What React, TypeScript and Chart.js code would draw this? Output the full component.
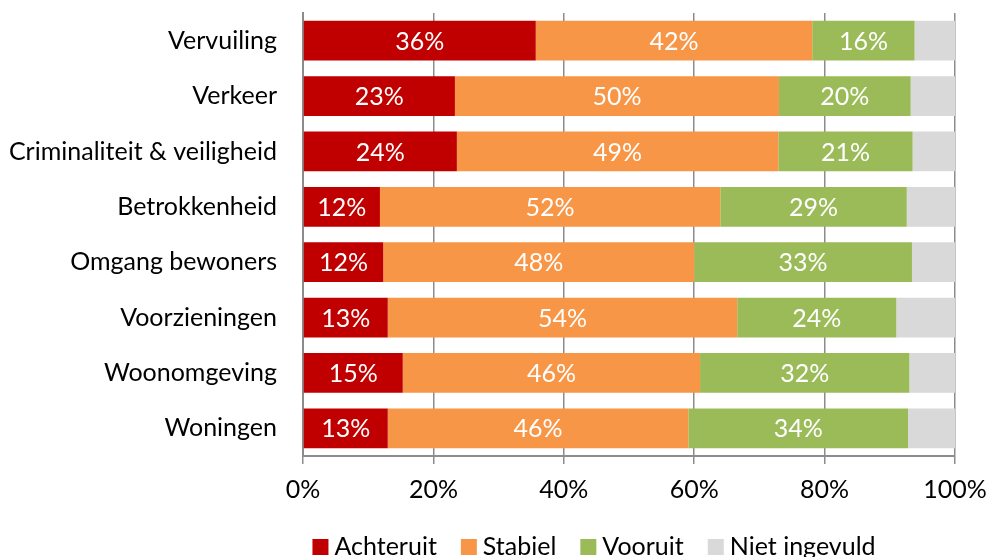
import { useEffect, useRef } from "react";
import { Chart, registerables } from "chart.js";

Chart.register(...registerables);

const categories = [
  "Vervuiling",
  "Verkeer",
  "Criminaliteit & veiligheid",
  "Betrokkenheid",
  "Omgang bewoners",
  "Voorzieningen",
  "Woonomgeving",
  "Woningen",
];
const achteruit = [35.7, 23.3, 23.6, 11.8, 12.3, 13.0, 15.3, 13.0];
const stabiel = [42.4, 49.7, 49.3, 52.2, 47.7, 53.6, 45.6, 46.1];
const vooruit = [15.7, 20.2, 20.6, 28.6, 33.4, 24.4, 32.1, 33.7];
const nietIngevuld = [6.2, 6.8, 6.5, 7.4, 6.6, 9.0, 7.0, 7.2];
const seriesNames = ["Achteruit", "Stabiel", "Vooruit", "Niet ingevuld"];
const seriesColors = ["#C00000", "#F79646", "#9BBB59", "#D9D9D9"];
const labelledSeries = [true, true, true, false];
const xTickValues = [0, 20, 40, 60, 80, 100];

const FONT = "Lato";
const FS = 25;
const GRID = "#8c8c8c";

const dataLabelPlugin = {
  id: "segmentLabels",
  afterDatasetsDraw(chart: any) {
    const ctx = chart.ctx;
    ctx.save();
    ctx.font = `${FS}px ${FONT}`;
    ctx.fillStyle = "#ffffff";
    ctx.textAlign = "center";
    ctx.textBaseline = "middle";
    chart.data.datasets.forEach((ds: any, di: number) => {
      if (!labelledSeries[di]) return;
      const meta = chart.getDatasetMeta(di);
      meta.data.forEach((el: any, i: number) => {
        const { x, base, y } = el.getProps(["x", "base", "y"], true);
        const v = ds.data[i];
        ctx.fillText(`${Math.round(v)}%`, (x + base) / 2, y + 1);
      });
    });
    ctx.restore();
  },
};

const legendPlugin = {
  id: "bottomLegend",
  afterDraw(chart: any) {
    const ctx = chart.ctx;
    ctx.save();
    ctx.font = `${FS}px ${FONT}`;
    ctx.textBaseline = "middle";
    ctx.textAlign = "left";
    const box = 16;
    const gap = 6;
    const spacing = 24;
    const items = chart.data.datasets.map((d: any) => ({
      text: d.label,
      color: d.backgroundColor,
      w: ctx.measureText(d.label).width,
    }));
    const total =
      items.reduce((s: number, it: any) => s + box + gap + it.w, 0) +
      spacing * (items.length - 1);
    const cx = 594;
    const cy = 547;
    let x = cx - total / 2;
    items.forEach((it: any) => {
      ctx.fillStyle = it.color;
      ctx.fillRect(x, cy - box / 2, box, box);
      x += box + gap;
      ctx.fillStyle = "#000000";
      ctx.fillText(it.text, x, cy);
      x += it.w + spacing;
    });
    ctx.restore();
  },
};

export default function App() {
  const ref = useRef<HTMLCanvasElement | null>(null);

  useEffect(() => {
    document.body.style.margin = "0";
    const canvas = ref.current;
    if (!canvas) return;
    const values = [achteruit, stabiel, vooruit, nietIngevuld];
    const chart = new Chart(canvas, {
      type: "bar",
      data: {
        labels: categories,
        datasets: seriesNames.map((name, i) => ({
          label: name,
          data: values[i],
          backgroundColor: seriesColors[i],
          borderWidth: 0,
          barPercentage: 0.72,
          categoryPercentage: 1,
        })),
      },
      options: {
        indexAxis: "y",
        animation: false,
        responsive: false,
        layout: { padding: { top: 13, right: 32, left: 0, bottom: 0 } },
        plugins: {
          legend: { display: false },
          tooltip: { enabled: false },
        },
        scales: {
          x: {
            stacked: true,
            min: 0,
            max: 100,
            afterBuildTicks: (scale: any) => {
              scale.ticks = xTickValues.map((v) => ({ value: v }));
            },
            afterFit: (scale: any) => {
              scale.height = 101;
              scale.paddingLeft = 0;
              scale.paddingRight = 0;
            },
            ticks: {
              callback: (v: any) => `${v}%`,
              font: { family: FONT, size: FS },
              color: "#000000",
              padding: 11,
              maxRotation: 0,
            },
            grid: {
              color: GRID,
              lineWidth: 1.5,
              tickLength: 8,
              drawTicks: true,
            },
            border: { display: true, color: GRID, width: 2 },
          },
          y: {
            stacked: true,
            afterFit: (scale: any) => {
              scale.width = 303;
              scale.paddingTop = 0;
              scale.paddingBottom = 0;
            },
            ticks: {
              font: { family: FONT, size: FS },
              color: "#000000",
              padding: 26,
            },
            grid: { display: false, drawTicks: false },
            border: { display: true, color: GRID, width: 2 },
          },
        },
      },
      plugins: [dataLabelPlugin, legendPlugin],
    });
    return () => chart.destroy();
  }, []);

  return (
    <div style={{ width: 987, height: 557 }}>
      <canvas ref={ref} width={987} height={557} style={{ display: "block" }} />
    </div>
  );
}
